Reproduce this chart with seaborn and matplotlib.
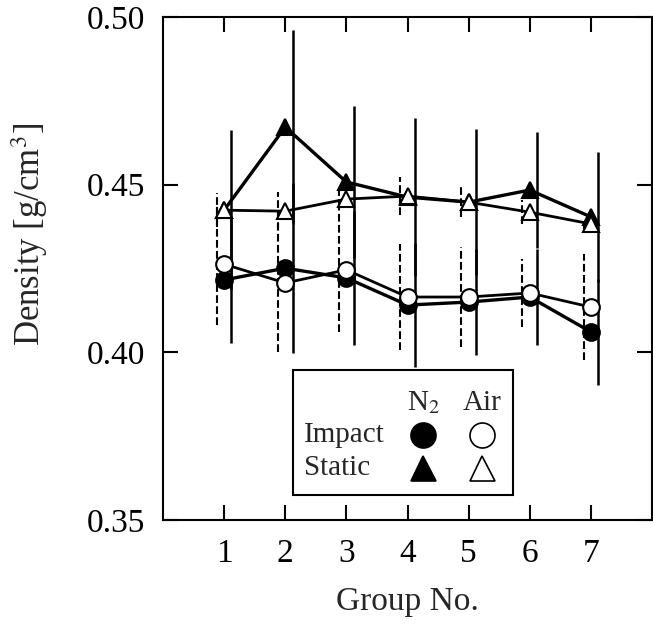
import numpy as np
import pandas as pd
import matplotlib
matplotlib.use("Agg")
import matplotlib.pyplot as plt
import seaborn as sns
from matplotlib.patches import Rectangle

groups = [1, 2, 3, 4, 5, 6, 7]

# (density in g/cm^3)
static_n2 = [0.4424, 0.4672, 0.4508, 0.4463, 0.4448, 0.4484, 0.4404]
static_n2_err = [0.0239, 0.0289, 0.0227, 0.0236, 0.0218, 0.0173, 0.0194]
static_air = [0.4424, 0.4421, 0.4457, 0.4466, 0.4448, 0.4418, 0.4383]
static_air_err = [0.0051, 0.0057, 0.0024, 0.0057, 0.0045, 0.0036, 0.0015]
impact_n2 = [0.4216, 0.4251, 0.4222, 0.4141, 0.4150, 0.4165, 0.4061]
impact_n2_err = [0.0188, 0.0253, 0.0200, 0.0185, 0.0158, 0.0143, 0.0158]
impact_air = [0.4263, 0.4207, 0.4246, 0.4165, 0.4165, 0.4177, 0.4135]
impact_air_err = [0.0182, 0.0206, 0.0185, 0.0158, 0.0149, 0.0101, 0.0158]

yticks = [0.35, 0.40, 0.45, 0.50]

sns.set_theme(style="ticks")
plt.rcParams["font.family"] = ["Liberation Serif", "DejaVu Serif"]
plt.rcParams["mathtext.fontset"] = "stix"

fig, ax = plt.subplots(figsize=(6.53, 6.26), dpi=100)
fig.subplots_adjust(left=0.2496, right=0.9985, top=0.9728, bottom=0.1693)

series = [
    ("Static", "N2", static_n2, static_n2_err, "^", "black", 0.12, "-"),
    ("Static", "Air", static_air, static_air_err, "^", "white", -0.12, "--"),
    ("Impact", "N2", impact_n2, impact_n2_err, "o", "black", 0.12, "-"),
    ("Impact", "Air", impact_air, impact_air_err, "o", "white", -0.12, "--"),
]

for test, gas, vals, errs, mk, fc, off, ls in series:
    df = pd.DataFrame({"group": groups, "density": vals, "err": errs})
    # error bars, shifted a little to the side of each point
    ax.vlines(df["group"] + off, df["density"] - df["err"], df["density"] + df["err"],
              colors="black", linestyles=ls, linewidth=1.8 if ls == "-" else 1.5, zorder=1)
    sns.lineplot(data=df, x="group", y="density", ax=ax, color="black",
                 linewidth=2.4 if gas == "N2" else 2.0, marker=mk, markersize=12,
                 markerfacecolor=fc, markeredgecolor="black", markeredgewidth=1.5,
                 zorder=3)

ax.set_xlim(0, 8)
ax.set_ylim(0.35, 0.50)
ax.set_xticks(groups)
ax.set_yticks(yticks)
ax.set_yticklabels([f"{t:.2f}" for t in yticks])
ax.tick_params(direction="in", length=11, width=1.5, labelsize=24,
               top=True, right=True, colors="black")
ax.tick_params(axis="x", pad=13)
ax.tick_params(axis="y", pad=13)
for s in ax.spines.values():
    s.set_linewidth(1.5)
    s.set_color("black")

ax.set_xlabel("Group No.", fontsize=24)
ax.set_ylabel("Density [g/cm$^{3}$]", fontsize=25)
ax.xaxis.set_label_coords(0.5, -0.133)
ax.yaxis.set_label_coords(-0.231, 0.567)

# hand-made legend box
ax.add_patch(Rectangle((0.266, 0.050), 0.450, 0.248, transform=ax.transAxes,
                       facecolor="white", edgecolor="black", linewidth=1.5, zorder=5))
ax.text(0.532, 0.233, "N$_2$", transform=ax.transAxes, ha="center", va="center",
        fontsize=21, zorder=6)
ax.text(0.652, 0.233, "Air", transform=ax.transAxes, ha="center", va="center",
        fontsize=21, zorder=6)
ax.text(0.288, 0.169, "Impact", transform=ax.transAxes, ha="left", va="center",
        fontsize=21, zorder=6)
ax.text(0.288, 0.103, "Static", transform=ax.transAxes, ha="left", va="center",
        fontsize=21, zorder=6)
for fx, fy, mk, fc in [(0.532, 0.169, "o", "black"), (0.652, 0.169, "o", "white"),
                       (0.532, 0.103, "^", "black"), (0.652, 0.103, "^", "white")]:
    ax.plot([fx], [fy], marker=mk, markersize=18, markerfacecolor=fc,
            markeredgecolor="black", markeredgewidth=1.2, transform=ax.transAxes,
            linestyle="none", zorder=6)

fig.savefig("out.png", dpi=100)
